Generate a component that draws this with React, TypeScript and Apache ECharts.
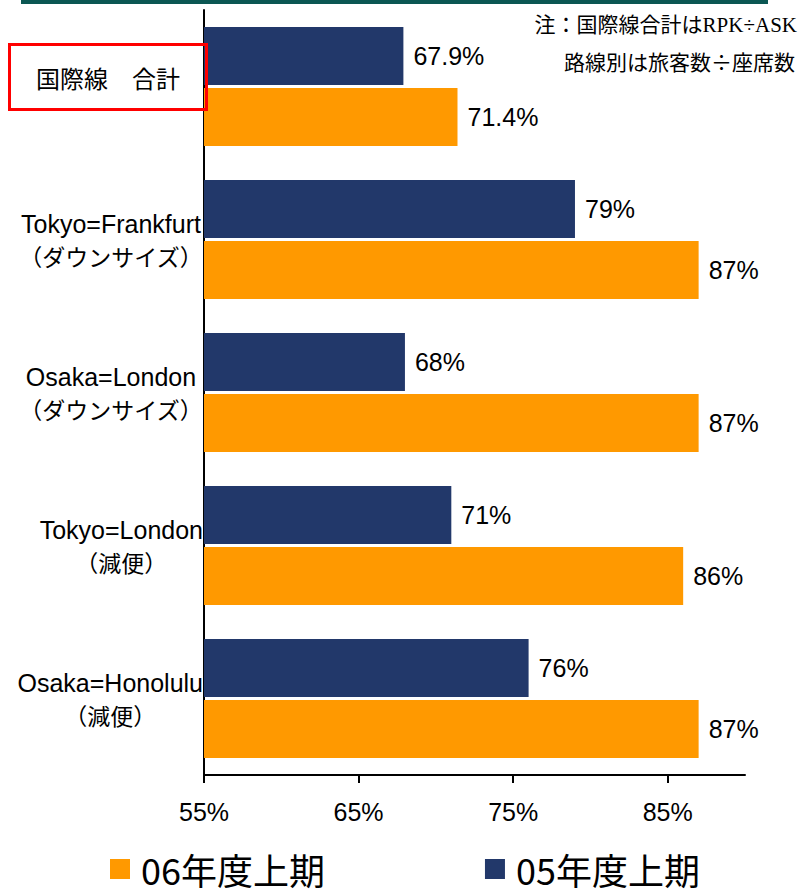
import React, { useEffect, useRef } from "react";
import * as echarts from "echarts";

const categories = [
  "国際線　合計",
  "Tokyo=Frankfurt\n（ダウンサイズ）",
  "Osaka=London\n（ダウンサイズ）",
  "Tokyo=London\n（減便）",
  "Osaka=Honolulu\n（減便）",
];
const series05 = [67.9, 79, 68, 71, 76];
const series06 = [71.4, 87, 87, 86, 87];
const xTicks = [55, 65, 75, 85];
const legendNames = ["06年度上期", "05年度上期"];
const noteLines = ["注：国際線合計はRPK÷ASK", "路線別は旅客数÷座席数"];

const SANS = '"Liberation Sans", Arial, "Noto Sans CJK JP", sans-serif';
const JP = '"Noto Sans CJK JP", "Liberation Sans", sans-serif';
const SERIF = '"Liberation Serif", "Noto Sans CJK JP", serif';

export default function App() {
  const ref = useRef<HTMLDivElement>(null);
  useEffect(() => {
    if (!ref.current) return;
    const chart = echarts.init(ref.current, null, { renderer: "svg" });
    const labelFormatter = (v: string, i: number) => {
      if (i === 0) return `{total|${v}}`;
      const [a, b] = v.split("\n");
      return `{en|${a}}\n{jp|${b}}`;
    };
    chart.setOption({
      animation: false,
      backgroundColor: "#ffffff",
      grid: { left: 204, right: 54, top: 10, bottom: 115 },
      legend: {
        data: legendNames,
        left: 110,
        top: 851,
        padding: 0,
        icon: "rect",
        itemWidth: 20,
        itemHeight: 20,
        itemGap: 160,
        textStyle: { fontSize: 36, lineHeight: 36, color: "#000", fontFamily: JP, padding: [0, 0, 0, 6] },
      },
      xAxis: {
        type: "value",
        min: 55,
        max: 90,
        splitLine: { show: false },
        axisLine: { show: true, lineStyle: { color: "#000", width: 2 } },
        axisTick: { show: true, length: 8, lineStyle: { color: "#000", width: 2 }, customValues: xTicks },
        axisLabel: {
          customValues: xTicks,
          formatter: (v: number) => `${v}%`,
          fontSize: 25,
          color: "#000",
          fontFamily: SANS,
          margin: 24,
        },
      },
      yAxis: {
        type: "category",
        inverse: true,
        data: categories,
        axisLine: { show: true, lineStyle: { color: "#000", width: 2 } },
        axisTick: { show: false },
        axisLabel: {
          margin: 1,
          formatter: labelFormatter,
          rich: {
            total: { fontSize: 24, fontFamily: JP, color: "#000", align: "center", width: 190, padding: [0, 0, 18, 0] },
            en: { fontSize: 25, fontFamily: SANS, color: "#000", align: "center", lineHeight: 32 },
            jp: { fontSize: 23, fontFamily: JP, color: "#000", align: "center", lineHeight: 32 },
          },
        },
      },
      series: [
        {
          name: legendNames[1],
          type: "bar",
          data: series05,
          barWidth: 58,
          barGap: "5%",
          itemStyle: { color: "#22386A" },
          label: { show: true, position: "right", distance: 10, fontSize: 25, color: "#000", fontFamily: SANS, formatter: (p: any) => `${p.value}%` },
        },
        {
          name: legendNames[0],
          type: "bar",
          data: series06,
          barWidth: 58,
          barGap: "5%",
          itemStyle: { color: "#FF9900" },
          label: { show: true, position: "right", distance: 10, fontSize: 25, color: "#000", fontFamily: SANS, formatter: (p: any) => `${p.value}%` },
        },
      ],
      graphic: [
        { type: "rect", left: 21, top: 0, shape: { width: 747, height: 4 }, style: { fill: "#0B5753" } },
        { type: "rect", shape: { x: 9.5, y: 44.5, width: 197, height: 65 }, style: { fill: "none", stroke: "#FF0000", lineWidth: 3 }, z: 10 },
        { type: "text", style: { x: 797, y: 25, text: noteLines[0], textAlign: "right", textVerticalAlign: "middle", fontSize: 21, fontFamily: SERIF, fill: "#000" } },
        { type: "text", style: { x: 795, y: 61, text: noteLines[1], textAlign: "right", textVerticalAlign: "middle", fontSize: 21, fontFamily: JP, fill: "#000" } },
      ],
    });
    return () => chart.dispose();
  }, []);
  return <div ref={ref} style={{ position: "fixed", left: 0, top: 0, width: 799, height: 890 }} />;
}
